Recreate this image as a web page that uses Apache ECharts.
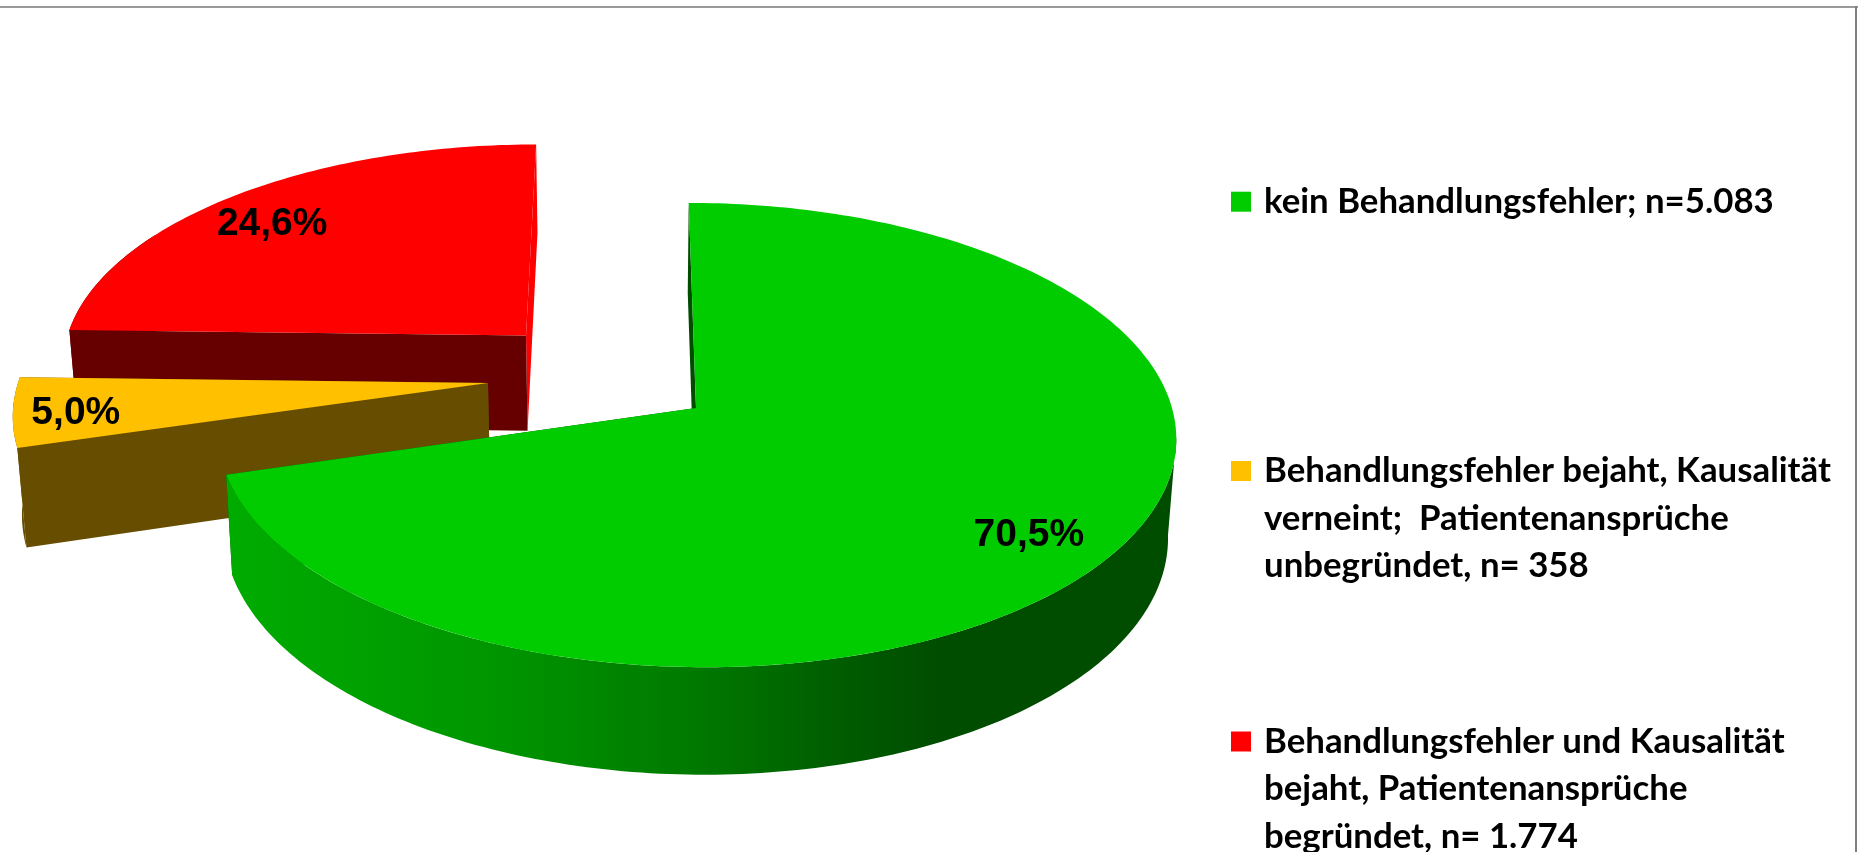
<!DOCTYPE html>
<html>
<head>
<meta charset="utf-8">
<style>
  html, body { margin: 0; padding: 0; background: #fff; }
  #chart { width: 1858px; height: 852px; }
</style>
<script src="https://cdn.jsdelivr.net/npm/echarts@6/dist/echarts.min.js"></script>
</head>
<body>
<div id="chart"></div>
<script>
const names = [
  'kein Behandlungsfehler; n=5.083',
  'Behandlungsfehler bejaht, Kausalität\nverneint;  Patientenansprüche\nunbegründet, n= 358',
  'Behandlungsfehler und Kausalität\nbejaht, Patientenansprüche\nbegründet, n= 1.774'
];
const counts = [5083, 358, 1774];
const topColors = ['#00cc00', '#ffc000', '#ff0000'];
const wallColors = ['#004d00', '#664d00', '#660000'];

// slice offsets on the pie's ground plane, in radii
const explode = [[0, 0], [-0.4408, 0.1105], [-0.3651, 0.329]];
const labelOffsets = [[0.648, -0.52], [-0.859, -0.1335], [-0.602, 0.5575]];
const legendTops = [178, 352.5, 623];

const total = counts.reduce((a, b) => a + b, 0);
const shares = counts.map(v => v / total);
const starts = shares.map((_, i) => shares.slice(0, i).reduce((a, b) => a + b, 0));

// perspective of the tilted pie
const cam = { px: 626, cx: 696, rx: 476, ry: 229, top: 408, p: 0.1165, baseScale: 0.985, baseTop: 506, baseRy: 237.4 };

function project(X, Y, isBase) {
  const w = 1 + cam.p * Y;
  let x = cam.px + (cam.cx - cam.px + cam.rx * X) / w;
  if (isBase) x = cam.px + (x - cam.px) * cam.baseScale;
  const y = isBase ? cam.baseTop - cam.baseRy * Y / w : cam.top - cam.ry * Y / w;
  return [x, y];
}

function rimPoint(i, deg, isBase) {
  const a = deg * Math.PI / 180;
  return project(explode[i][0] + Math.sin(a), explode[i][1] + Math.cos(a), isBase);
}

function arc(i, from, to, isBase) {
  const pts = [];
  const n = Math.max(2, Math.ceil(Math.abs(to - from)));
  for (let k = 0; k <= n; k++) pts.push(rimPoint(i, from + (to - from) * k / n, isBase));
  return pts;
}

const sideGradient = new echarts.graphic.LinearGradient(0, 0, 1, 0, [
  { offset: 0, color: '#00ac00' },
  { offset: 0.3, color: '#009400' },
  { offset: 0.5, color: '#007800' },
  { offset: 0.65, color: '#005c00' },
  { offset: 0.75, color: '#004d00' },
  { offset: 1, color: '#004d00' }
]);

function renderSlice(params, api) {
  const i = api.value(1);
  const from = starts[i] * 360;
  const to = from + api.value(0) / total * 360;
  const apexTop = project(explode[i][0], explode[i][1], false);
  const apexBase = project(explode[i][0], explode[i][1], true);
  const wall = (deg, fill) => ({
    type: 'polygon',
    shape: { points: [rimPoint(i, deg, false), apexTop, apexBase, rimPoint(i, deg, true)] },
    style: { fill }
  });
  // the red slice's rear wall only shows as a thin bright edge
  const children = [wall(to, i === 2 ? topColors[i] : wallColors[i]), wall(from, wallColors[i])];

  // outer side, from the rightmost rim point round the front; the closing line is the silhouette
  const frontFrom = Math.max(from, 97);
  const frontTo = Math.min(to, 300);
  if (frontTo > frontFrom) {
    children.push({
      type: 'polygon',
      shape: { points: arc(i, frontFrom, frontTo, false).concat(arc(i, frontTo, frontFrom, true)) },
      style: { fill: i === 0 ? sideGradient : wallColors[i] }
    });
  }

  children.push({
    type: 'polygon',
    shape: { points: [apexTop].concat(arc(i, from, to, false)) },
    style: { fill: topColors[i] }
  });

  const labelPos = project(
    explode[i][0] + labelOffsets[i][0],
    explode[i][1] + labelOffsets[i][1],
    false
  );
  children.push({
    type: 'text',
    style: {
      x: labelPos[0],
      y: labelPos[1],
      text: (api.value(0) / total * 100).toFixed(1).replace('.', ',') + '%',
      fill: '#000',
      align: 'center',
      verticalAlign: 'middle',
      font: 'bold 39px "Liberation Sans", Arial, sans-serif'
    }
  });
  return { type: 'group', children };
}

// red goes first, green last: the nearer slice covers the farther one
const series = [2, 1, 0].map(i => ({
  type: 'custom',
  name: names[i],
  coordinateSystem: 'none',
  renderItem: renderSlice,
  data: [[counts[i], i]],
  itemStyle: { color: topColors[i] },
  silent: true,
  animation: false
}));

// blank lines above keep the marker level with the first text line
const legend = names.map((name, i) => ({
  data: [name],
  left: 1231,
  top: legendTops[i],
  padding: 0,
  icon: 'rect',
  itemWidth: 20,
  itemHeight: 20,
  selectedMode: false,
  formatter: n => '\n'.repeat(n.split('\n').length - 1) + n,
  textStyle: {
    fontFamily: 'Lato',
    fontWeight: 'bold',
    fontSize: 34.8,
    lineHeight: 47.4,
    color: '#000',
    padding: [0, 0, 0, 8]
  }
}));

const chart = echarts.init(document.getElementById('chart'));
chart.setOption({
  backgroundColor: '#fff',
  animation: false,
  legend,
  series,
  graphic: [
    { type: 'rect', silent: true, shape: { x: 0, y: 6, width: 1858, height: 2 }, style: { fill: '#9a9a9a' } },
    { type: 'rect', silent: true, shape: { x: 1855, y: 6, width: 2, height: 846 }, style: { fill: '#808080' } }
  ]
});
</script>
</body>
</html>
